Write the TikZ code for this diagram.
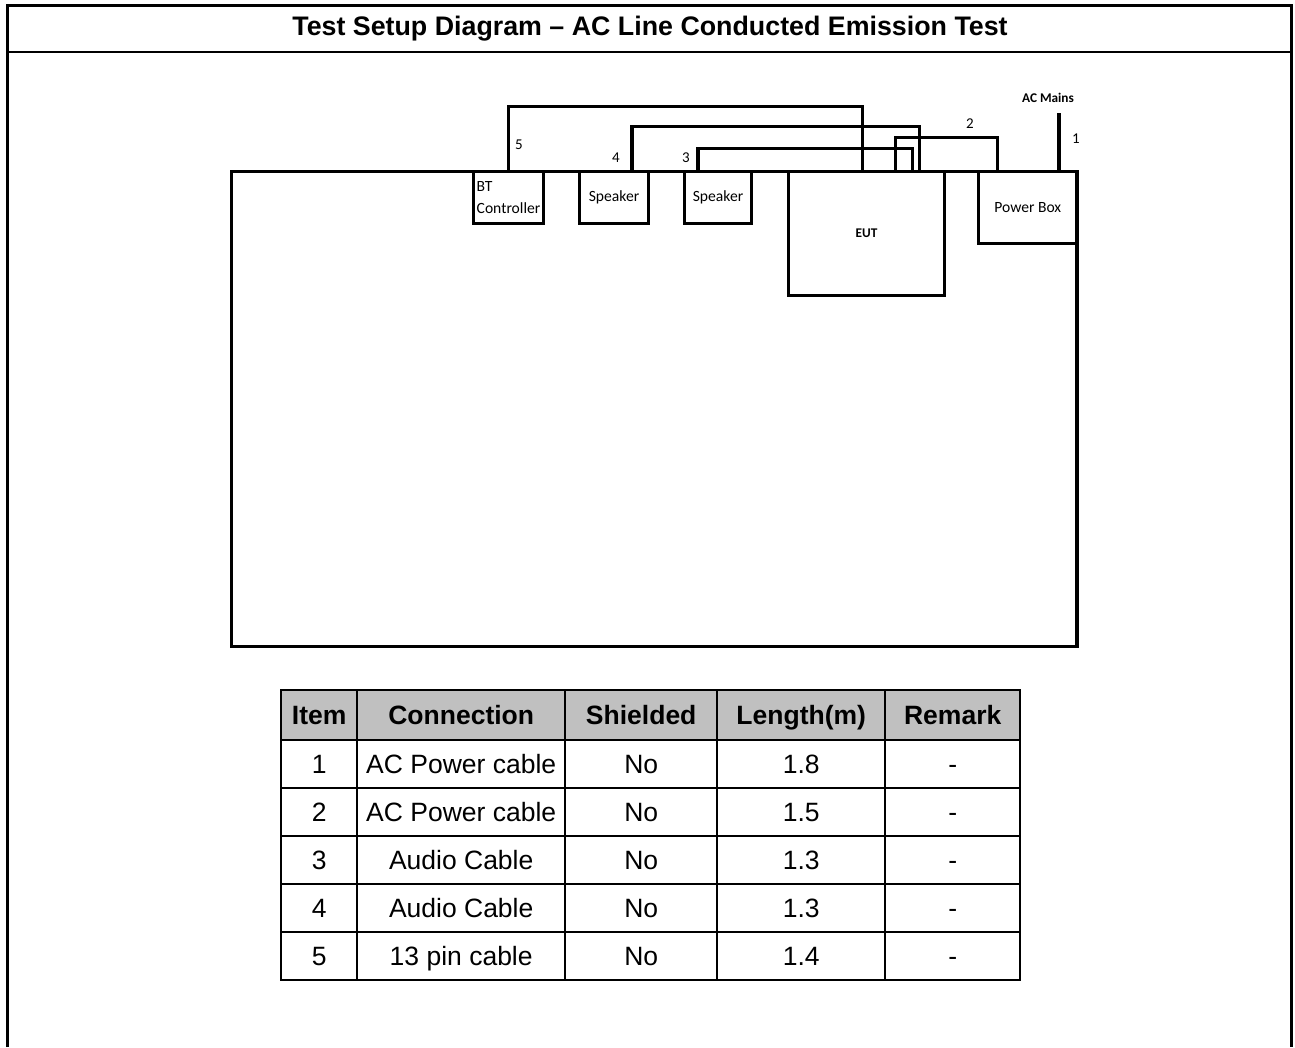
\documentclass[tikz,border=0pt]{standalone}
\usepackage{fontspec}
\setmainfont{Liberation Sans}
\newfontfamily\calibri{Carlito}
\usetikzlibrary{positioning}
\definecolor{headgray}{HTML}{C0C0C0}

\begin{document}
\begin{tikzpicture}[
    x=1pt, y=-1pt,
    frame/.style={line width=3pt},
    device/.style={
        draw,
        line width=3.2pt,
        inner sep=0pt,
        align=left,
        font=\calibri\fontsize{15.6}{22}\selectfont
    },
    cable/.style={line width=3.2pt},
    tag/.style={inner sep=1pt, font=\calibri\fontsize{15}{17}\selectfont},
    cell/.style={
        draw,
        line width=2.4pt,
        anchor=north west,
        minimum height=48pt,
        inner sep=0pt,
        text height=21.5pt,
        text depth=2.5pt,
        font=\fontsize{26.5}{30}\selectfont
    },
    headcell/.style={
        cell,
        fill=headgray,
        minimum height=50pt,
        font=\bfseries\fontsize{26.5}{30}\selectfont
    }
]
    \useasboundingbox (0,0) rectangle (1295,1047);

    \draw[frame] (7,1047) -- (7,5) -- (1291,5) -- (1291,1047);
    \draw[line width=2.4pt] (7,52) -- (1291,52);
    \node[font=\bfseries\fontsize{26.8}{30}\selectfont] (title) at (650,29)
        {Test Setup Diagram – AC Line Conducted Emission Test};

    \draw[line width=3.2pt] (231.5,171.5) rectangle (1077,646.5);

    \node[device, minimum width=70pt, minimum height=52pt] (btctrl) at (508.5,197.5)
        {BT\\Controller};
    \node[device, minimum width=69pt, minimum height=52pt] (spkA) at (614,197.5) {Speaker};
    \node[device, minimum width=67pt, minimum height=52pt] (spkB) at (718,197.5) {Speaker};
    \node[device, minimum width=156pt, minimum height=124pt,
        font=\calibri\bfseries\fontsize{13.3}{15}\selectfont] (eut) at (866.5,233.5) {EUT};
    \node[device, minimum width=98.5pt, minimum height=72pt] (pwrbox) at (1027.75,207.5)
        {Power Box};

    \draw[cable] (btctrl.north) -- ++(0,-63.5) -| ([xshift=75.5pt]eut.north west);
    \draw[cable] ([xshift=18pt]spkA.north) -- ++(0,-43.5) -| ([xshift=132.5pt]eut.north west);
    \draw[cable] ([xshift=-20pt]spkB.north) -- ++(0,-21.5) -| ([xshift=125.5pt]eut.north west);
    \draw[cable] ([xshift=20.5pt]pwrbox.north west) -- ++(0,-32.5) -| ([xshift=108.5pt]eut.north west);
    \coordinate (mains) at (1059,113);
    \draw[cable] (mains) -- (mains |- pwrbox.north);
    \node[font=\calibri\bfseries\fontsize{13.3}{15}\selectfont] (mainslbl) at (1048,98) {AC Mains};

    \node[tag] (n5) at (519,145) {5};
    \node[tag] (n4) at (616,158) {4};
    \node[tag] (n3) at (686,158) {3};
    \node[tag] (n2) at (970,124) {2};
    \node[tag] (n1) at (1076,139) {1};

    \foreach \x/\w/\txt [count=\c] in {280/76/Item, 356/208/Connection, 564/152/Shielded,
        716/168/Length(m), 884/135/Remark}
        \node[headcell, minimum width=\w pt] (head\c) at (\x,689) {\txt};

    \foreach \item/\conn/\len [count=\r] in {1/AC Power cable/1.8, 2/AC Power cable/1.5,
        3/Audio Cable/1.3, 4/Audio Cable/1.3, 5/13 pin cable/1.4} {
        \pgfmathsetmacro\top{739+48*(\r-1)}
        \node[cell, minimum width=76pt] (item\r) at (280,\top) {\item};
        \node[cell, minimum width=208pt] (conn\r) at (356,\top) {\conn};
        \node[cell, minimum width=152pt] (shld\r) at (564,\top) {No};
        \node[cell, minimum width=168pt] (len\r) at (716,\top) {\len};
        \node[cell, minimum width=135pt] (rmk\r) at (884,\top) {-};
    }
\end{tikzpicture}
\end{document}
